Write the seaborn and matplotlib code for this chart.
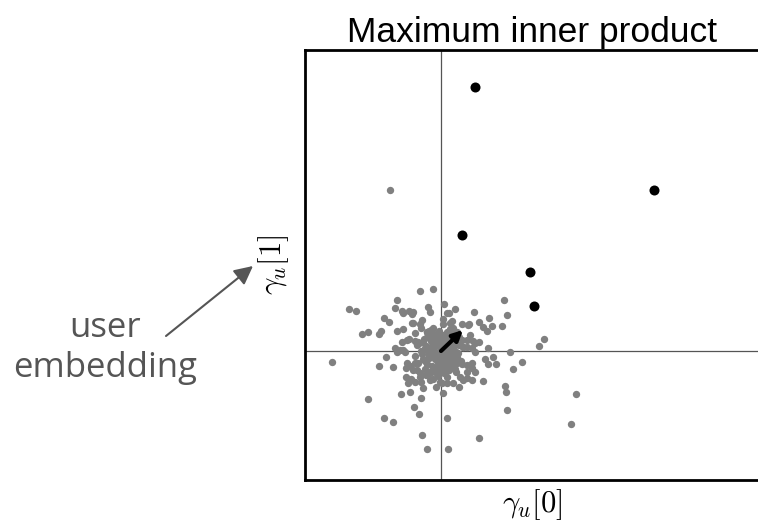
import matplotlib
matplotlib.use("Agg")
import matplotlib.pyplot as plt
import pandas as pd
import seaborn as sns

# item embeddings (gamma_i)
gray_x = [-0.92, -0.85, -0.79, -0.73, -0.62, -0.60, -0.57, -0.52, -0.44, -0.46,
          -0.39, -0.32, -0.29, -0.44, -0.38, -0.39, -0.32, -0.21, -0.08, -0.13,
          -0.11, -0.28, -0.21, -0.20, -0.26, -0.23, 0.03, 0.08, 0.14, 0.02,
          0.11, 0.02, -0.46, -0.41, -0.55, -0.14, -0.51,
          -1.09, -0.62, -0.48, -0.44, -0.36, -0.35, -0.31, -0.26, -0.24,
          -0.35, -0.30, -0.33, -0.26, -0.20, -0.18, -0.21, -0.13, -0.08, -0.05,
          0.01, 0.06, 0.02, -0.40, -0.31, -0.73, -0.20, -0.27, -0.22, -0.57,
          -0.48, 0.06, -0.19, -0.14, 0.07,
          0.33, 0.63, 0.66, 0.48, 0.38, 0.42, 0.46, 0.51, 0.61, 0.28,
          0.21, 0.12, 0.16, 0.26, 0.32, 0.38, 0.21, 0.22, 0.26, 0.31,
          0.47, 0.69, 0.98, 1.03, 0.44, 0.52, 0.16,
          0.47, 0.55, 0.81, 0.72, 0.26, 0.31, 0.34, 0.19, 0.26, 0.31,
          0.42, 0.64, 0.65, 0.18, 0.07, 1.35, 0.66, 1.30, 0.38,
          # ring around the core
          -0.38, -0.28, -0.19, 0.06, 0.09, 0.27, 0.29, 0.34, 0.34, 0.31,
          0.26, 0.22, 0.12, 0.06, -0.01, -0.11, -0.21, -0.28, -0.34, -0.38,
          -0.34, -0.26, -0.29,
          # dense core
          -0.15, -0.12, -0.10, -0.08, -0.06, -0.05, -0.03, -0.02, 0.00, 0.01,
          0.03, 0.04, 0.06, 0.07, 0.09, 0.10, 0.12, -0.18, -0.14, -0.09,
          -0.03, 0.02, 0.08, 0.13, 0.15, -0.17, -0.11, -0.05, 0.05, -0.20,
          0.17, -0.07, 0.00, -0.13, 0.05, -0.01, 0.11, -0.16, 0.14, -0.02,
          -0.09, 0.04, -0.04, 0.08, -0.24, 0.20, -0.11, 0.10, -0.26, 0.18,
          -0.19, -0.16, -0.12, -0.08, -0.04, 0.00, 0.04, 0.08, 0.12, 0.16,
          -0.18, -0.14, -0.10, -0.06, -0.02, 0.02, 0.06, 0.10, 0.14, 0.18,
          -0.16, -0.12, -0.08, -0.04, 0.00, 0.04, 0.08, 0.12, -0.14, -0.10,
          -0.06, -0.02, 0.02, 0.06, 0.10, -0.12, -0.06, 0.00, 0.06, 0.12,
          -0.22, 0.21, -0.23, 0.22, -0.08, 0.09, -0.15, 0.15, -0.03, 0.03]
gray_y = [0.42, 0.40, 0.17, 0.19, 0.17, 0.20, 0.33, 0.29, 0.51, 0.43,
          0.40, 0.40, 0.37, 0.20, 0.22, 0.09, 0.12, 0.60, 0.62, 0.44,
          0.39, 0.28, 0.27, 0.23, 0.10, 0.09, 0.47, 0.38, 0.42, 0.32,
          0.30, 0.27, 0.03, 0.01, -0.06, 0.19, 1.61,
          -0.11, -0.15, -0.16, -0.01, -0.01, -0.17, -0.15, -0.12, -0.19,
          -0.26, -0.28, -0.32, -0.31, -0.31, -0.37, -0.22, -0.21, -0.28, -0.36,
          -0.32, -0.32, -0.42, -0.43, -0.41, -0.48, -0.47, -0.56, -0.63, -0.67,
          -0.71, -0.67, -0.84, -0.98, -0.98,
          0.39, 0.51, 0.36, 0.33, 0.29, 0.24, 0.20, 0.25, 0.25, 0.27,
          0.27, 0.23, 0.19, 0.11, 0.10, 0.09, 0.11, 0.04, 0.04, 0.03,
          0.03, -0.01, 0.05, 0.12, -0.08, -0.06, -0.06,
          -0.13, -0.13, -0.11, -0.18, -0.14, -0.17, -0.21, -0.26, -0.27, -0.29,
          -0.30, -0.35, -0.41, -0.36, -0.19, -0.43, -0.59, -0.73, -0.87,
          # ring around the core
          0.38, 0.39, 0.31, 0.38, 0.28, 0.26, 0.16, 0.08, -0.01, -0.12,
          -0.21, -0.29, -0.32, -0.26, -0.31, -0.29, -0.26, -0.19, -0.12, 0.01,
          0.11, 0.18, 0.28,
          # dense core
          0.05, -0.03, 0.10, 0.02, -0.08, 0.06, -0.02, 0.12, 0.03, -0.06,
          0.08, -0.01, 0.04, -0.10, 0.09, -0.04, 0.02, -0.08, -0.13, -0.15,
          -0.12, -0.15, -0.16, -0.10, 0.07, 0.12, 0.16, 0.17, 0.15, 0.00,
          -0.02, -0.04, 0.09, 0.00, -0.12, 0.00, 0.13, -0.18, -0.18, 0.20,
          0.05, 0.02, 0.09, -0.02, 0.06, -0.10, -0.22, 0.18, -0.05, 0.14,
          -0.03, 0.03, -0.05, 0.07, -0.05, -0.10, 0.06, 0.13, -0.08, -0.12,
          0.09, 0.14, 0.13, 0.11, 0.05, 0.16, 0.11, 0.04, 0.00, 0.06,
          -0.10, -0.07, -0.19, -0.17, -0.20, -0.20, -0.19, -0.13, 0.19, 0.21,
          -0.21, -0.09, 0.07, -0.07, -0.14, 0.20, -0.01, 0.14, 0.19, -0.17,
          0.08, -0.13, -0.12, 0.04, 0.23, 0.22, -0.24, -0.21, -0.25, -0.22]

# top-5 items by inner product
top_x = [0.34, 2.13, 0.21, 0.89, 0.93]
top_y = [2.64, 1.61, 1.16, 0.79, 0.45]

# user embedding
user_vec = [0.22, 0.21]

items = pd.DataFrame({"x": gray_x, "y": gray_y})
top = pd.DataFrame({"x": top_x, "y": top_y})

sns.set_theme(style="white")
plt.rcParams['font.family'] = ['Liberation Sans', 'DejaVu Sans']
plt.rcParams['mathtext.fontset'] = 'cm'

fig = plt.figure(figsize=(7.58, 5.22), dpi=100)
ax = fig.add_axes([0.4024, 0.0805, 0.6002, 0.8237])

ax.axhline(0, color="#555555", lw=0.9, zorder=1)
ax.axvline(0, color="#555555", lw=0.9, zorder=1)

sns.scatterplot(data=items, x="x", y="y", color="#808080", s=28,
                linewidth=0, ax=ax, zorder=2)
sns.scatterplot(data=top, x="x", y="y", color="black", s=52,
                linewidth=0, ax=ax, zorder=3)

ax.annotate("", xy=(user_vec[0], user_vec[1]), xytext=(0, 0),
            arrowprops=dict(arrowstyle="-|>", color="black", lw=3,
                            mutation_scale=15, shrinkA=0, shrinkB=0),
            zorder=4)

ax.set_xlim(-1.36, 3.19)
ax.set_ylim(-1.29, 3.01)
ax.set_xticks([])
ax.set_yticks([])
for side in ["left", "bottom", "top", "right"]:
    ax.spines[side].set_color("black")
    ax.spines[side].set_linewidth(2)

ax.set_title("Maximum inner product", fontsize=25.5, pad=6, color="black")
ax.set_xlabel(r"$\gamma_u[0]$", fontsize=22, labelpad=5, color="black")
ax.set_ylabel(r"$\gamma_u[1]$", fontsize=22, labelpad=10, color="black")

fig.text(105 / 758, 1 - 348 / 522, "user\nembedding", ha="center", va="center",
         fontsize=25, color="#555555", family=["Open Sans", "DejaVu Sans"],
         linespacing=1.25)
ax.annotate("", xy=(253, 256), xytext=(166, 186), xycoords="figure pixels",
            textcoords="figure pixels",
            arrowprops=dict(arrowstyle="-|>", color="#555555", lw=1.5,
                            mutation_scale=28, shrinkA=0, shrinkB=0),
            annotation_clip=False)

fig.savefig("out.png", dpi=100)
